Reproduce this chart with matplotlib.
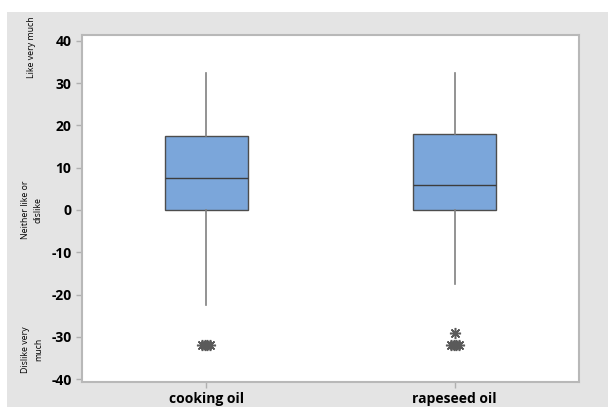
import numpy as np
import matplotlib.pyplot as plt
from matplotlib.patches import Rectangle
from matplotlib.transforms import blended_transform_factory

plt.rcParams['font.family'] = ['Open Sans', 'DejaVu Sans']
plt.rcParams['axes.unicode_minus'] = False

categories = ['cooking oil', 'rapeseed oil']
# box stats
q1 = [0, 0]
med = [7.5, 6]
q3 = [17.5, 18]
whislo = [-22.5, -17.5]
whishi = [32.5, 32.5]
outliers = [[-32, -32, -32, -32], [-29, -32, -32, -32, -32]]
jitter = [[-0.016, -0.005, 0.005, 0.016], [0, -0.016, -0.005, 0.005, 0.016]]

scale_labels = ['Like very much', 'Neither like or\ndislike', 'Dislike very\nmuch']
scale_pos = [38.5, 0, -33]

fig = plt.figure(figsize=(6.08, 4.07), dpi=100, facecolor='white')
fig.patches.append(Rectangle((7/608, 0), 1, (407-12)/407, transform=fig.transFigure,
                             facecolor='#e4e4e4', edgecolor='none', zorder=-10))
ax = fig.add_axes([82/608, 1-382/407, (579-82)/608, (382-35)/407])

stats = []
for i in range(2):
    stats.append(dict(label=categories[i], q1=q1[i], med=med[i], q3=q3[i],
                      whislo=whislo[i], whishi=whishi[i], fliers=[]))
ax.bxp(stats, positions=[1, 2], widths=0.334, patch_artist=True, showcaps=False,
       boxprops=dict(facecolor='#7ba6da', edgecolor='#4d4d4d', linewidth=1.0),
       medianprops=dict(color='#3d3d3d', linewidth=1.0),
       whiskerprops=dict(color='#808080', linewidth=1.2))

for i in range(2):
    xs = np.array(jitter[i]) + i + 1
    ax.plot(xs, outliers[i], linestyle='none', marker=(8, 2, 0), markersize=8,
            color='#5a5a5a', markeredgewidth=1.1)

ax.set_xlim(0.5, 2.5)
ax.set_ylim(-40.7, 41.4)
ax.set_yticks(np.arange(-40, 41, 10))
ax.set_xticks([1, 2])
ax.set_xticklabels(categories, fontsize=10, fontweight='bold')
for lab in ax.get_yticklabels():
    lab.set_fontweight('bold')
    lab.set_fontsize(10)
ax.tick_params(colors='#b0b0b0', labelcolor='black', length=4, width=1)
for s in ax.spines.values():
    s.set_color('#b8b8b8')
    s.set_linewidth(1.5)

tr = blended_transform_factory(fig.transFigure, ax.transData)
for t, y in zip(scale_labels, scale_pos):
    fig.text(32/608, y, t, transform=tr, rotation=90, fontsize=6.3,
             ha='center', va='center', multialignment='center', linespacing=1.5)

fig.savefig('out.png', dpi=100, facecolor=fig.get_facecolor())
